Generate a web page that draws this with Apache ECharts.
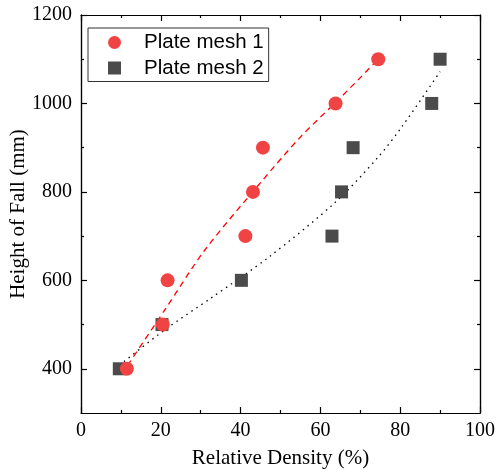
<!DOCTYPE html>
<html lang="en">
<head>
    <meta charset="UTF-8">
    <title>Height of Fall</title>
    <script src="https://cdn.jsdelivr.net/npm/echarts@6/dist/echarts.min.js"></script>
</head>
<body style="margin:0;background:#fff;">
    <div id="myCharts" style="width:496px;height:470px;"></div>
    <script type="text/javascript">
        // measured points
        var mesh1 = [[11.5, 400], [20.5, 500], [21.7, 600], [41.2, 700], [43.1, 800], [45.6, 900], [63.8, 1000], [74.5, 1100]]
        var mesh2 = [[9.6, 400], [20.3, 500], [40.2, 600], [62.9, 700], [65.3, 800], [68.2, 900], [87.9, 1000], [90, 1100]]
        // fit curves
        var fit1 = [[11.7, 408], [21, 533], [31, 668], [45.2, 823], [55.2, 926], [64.8, 1011], [74.3, 1098]]
        var fit2 = [[9.6, 408], [21.3, 490], [32.6, 560], [47, 652], [63.8, 777], [74.5, 879], [80.4, 947], [90, 1072]]
        var yMajor = [400, 600, 800, 1000, 1200]
        var yMinor = [500, 700, 900, 1100]

        var myChart = echarts.init(document.getElementById('myCharts'))
        var serif = 'Liberation Serif'
        var lineCol = '#000'
        var plain = function (v) { return String(v) }

        function yAx(pos, ticks, len, labels) {
            return {
                type: 'value',
                position: pos,
                min: 300,
                max: 1200,
                axisLine: { show: true, lineStyle: { color: lineCol, width: 1.2 } },
                axisTick: { show: true, inside: true, length: len, customValues: ticks, lineStyle: { color: lineCol, width: 1.2 } },
                axisLabel: labels ? { show: true, customValues: yMajor, formatter: plain, margin: 9, color: '#000', fontFamily: serif, fontSize: 20 } : { show: false },
                splitLine: { show: false }
            }
        }
        function xAx(pos, labels) {
            return {
                type: 'value',
                position: pos,
                min: 0,
                max: 100,
                interval: 20,
                axisLine: { show: true, onZero: false, lineStyle: { color: lineCol, width: 1.2 } },
                axisTick: { show: true, inside: true, length: 6, lineStyle: { color: lineCol, width: 1.2 } },
                minorTick: { show: true, splitNumber: 2, length: 3, lineStyle: { color: lineCol, width: 1.2 } },
                axisLabel: labels ? { show: true, formatter: plain, margin: 8, color: '#000', fontFamily: serif, fontSize: 20 } : { show: false },
                splitLine: { show: false }
            }
        }

        var xBottom = xAx('bottom', true)
        xBottom.name = 'Relative Density (%)'
        xBottom.nameLocation = 'middle'
        xBottom.nameGap = 35
        xBottom.nameMoveOverlap = false
        xBottom.nameTextStyle = { color: '#000', fontFamily: serif, fontSize: 21 }

        var yLeft = yAx('left', yMajor, 6, true)
        yLeft.name = 'Height of Fall (mm)'
        yLeft.nameLocation = 'middle'
        yLeft.nameGap = 52
        yLeft.nameMoveOverlap = false
        yLeft.nameTextStyle = { color: '#000', fontFamily: serif, fontSize: 21 }

        var option = {
            animation: false,
            grid: { left: 81, right: 16, top: 15, bottom: 57, containLabel: false, outerBoundsMode: 'none' },
            legend: {
                data: ['Plate mesh 1', 'Plate mesh 2'],
                orient: 'vertical',
                left: 88,
                top: 28,
                padding: [4, 5, 3, 20],
                itemGap: 4.5,
                itemWidth: 13,
                itemHeight: 13,
                borderColor: '#333',
                borderWidth: 1,
                borderRadius: 0,
                textStyle: { color: '#000', fontFamily: 'Liberation Sans', fontSize: 20.5, lineHeight: 21, padding: [0, 0, 0, 18] }
            },
            xAxis: [xBottom, xAx('top', false)],
            yAxis: [yLeft, yAx('left', yMinor, 3, false), yAx('right', yMajor, 6, false), yAx('right', yMinor, 3, false)],
            series: [
                {
                    name: 'fit2', type: 'line', data: fit2, smooth: 0.3, symbol: 'none', z: 1,
                    lineStyle: { color: '#000', width: 1.3, type: [1.5, 4.5] }
                },
                {
                    name: 'fit1', type: 'line', data: fit1, smooth: 0.3, symbol: 'none', z: 2,
                    lineStyle: { color: '#f00', width: 1.3, type: [6, 4.5] }
                },
                {
                    name: 'Plate mesh 2', type: 'scatter', data: mesh2, symbol: 'rect', symbolSize: 13, z: 3,
                    itemStyle: { color: '#4b4b4b', opacity: 1 }
                },
                {
                    name: 'Plate mesh 1', type: 'scatter', data: mesh1, symbol: 'circle', symbolSize: 14, z: 4,
                    itemStyle: { color: '#f04343', opacity: 1 }
                }
            ]
        }
        myChart.setOption(option)
    </script>
</body>
</html>
